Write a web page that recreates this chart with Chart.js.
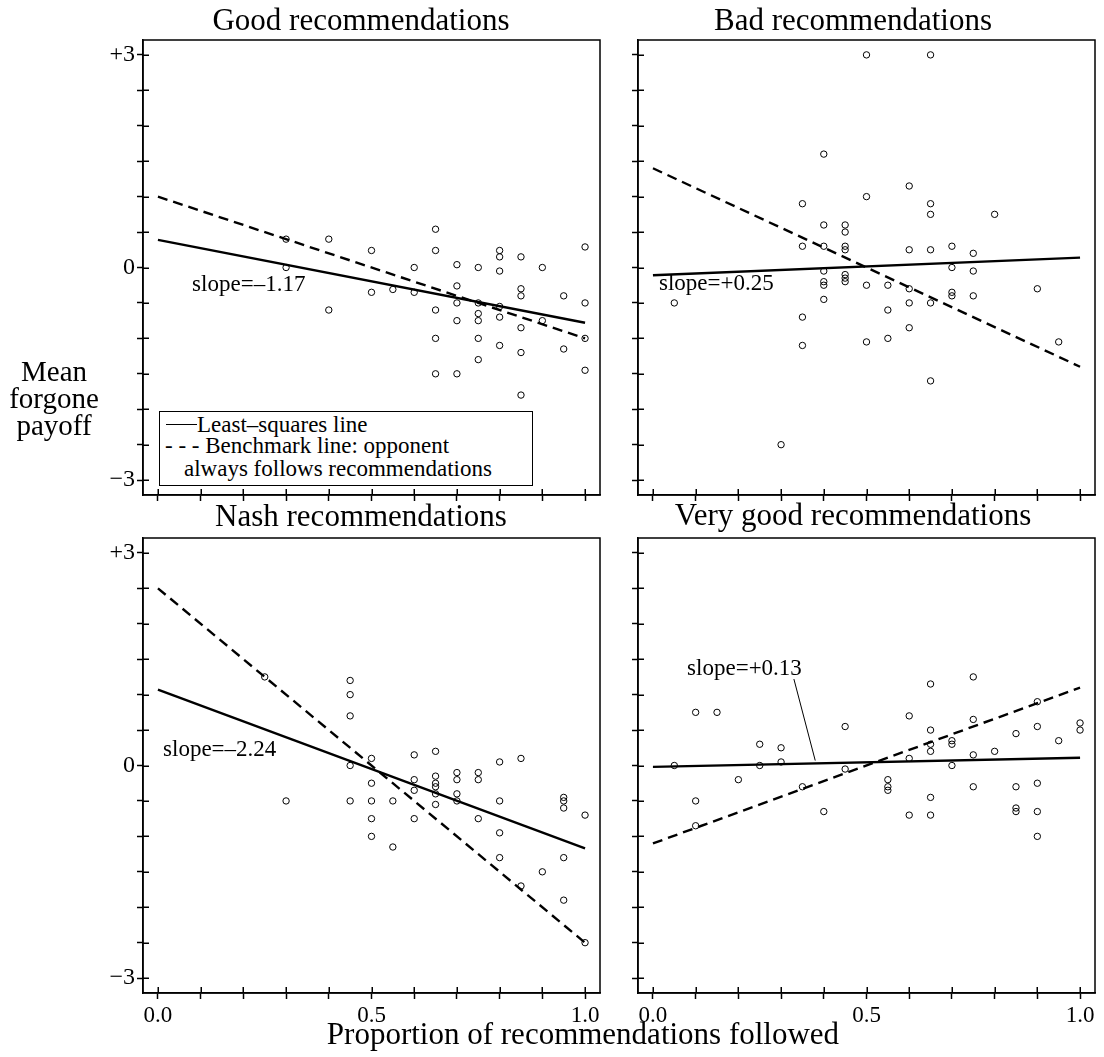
<!DOCTYPE html>
<html>
<head>
<meta charset="utf-8">
<script src="https://cdn.jsdelivr.net/npm/chart.js@4.4.1/dist/chart.umd.min.js"></script>
<style>
  body { margin: 0; background: #fff; width: 1104px; height: 1057px; position: relative; overflow: hidden;
         font-family: "Liberation Serif", "Times New Roman", serif; color: #000; }
  canvas { position: absolute; }
  .ttl { position: absolute; width: 500px; text-align: center; font-size: 31px; line-height: 31px; white-space: nowrap; }
  #ytitle { position: absolute; left: 0; top: 358px; width: 108px; text-align: center; font-size: 29px; line-height: 27px; }
  #xtitle { position: absolute; left: 283px; top: 1018px; width: 600px; text-align: center; font-size: 31px; line-height: 31px; white-space: nowrap; }
  #legend { position: absolute; left: 159px; top: 411px; width: 374px; height: 75px; box-sizing: border-box;
            border: 1.5px solid #000; background: #fff; font-size: 23px; line-height: 22px; }
  #legend div { position: absolute; white-space: nowrap; }
  #solidKey { left: 6px; top: 12px; width: 31px; height: 0; border-top: 1.5px solid #000; }
</style>
</head>
<body>
<canvas id="good" width="610" height="530" style="left:0;top:0"></canvas>
<canvas id="bad" width="489" height="530" style="left:615px;top:0"></canvas>
<canvas id="nash" width="610" height="557" style="left:0;top:500px"></canvas>
<canvas id="vgood" width="489" height="557" style="left:615px;top:500px"></canvas>

<div class="ttl" style="left:111px;top:4px">Good recommendations</div>
<div class="ttl" style="left:603px;top:4px">Bad recommendations</div>
<div class="ttl" style="left:111px;top:500px">Nash recommendations</div>
<div class="ttl" style="left:603px;top:499px">Very good recommendations</div>
<div id="ytitle">Mean<br>forgone<br>payoff</div>
<div id="xtitle">Proportion of recommendations followed</div>
<div id="legend">
  <div id="solidKey"></div>
  <div style="left:37px;top:2px">Least–squares line</div>
  <div style="left:5px;top:23px">- - - Benchmark line: opponent</div>
  <div style="left:24px;top:46px">always follows recommendations</div>
</div>

<script>
// axis ticks
const xTickVals = [0, 0.1, 0.2, 0.3, 0.4, 0.5, 0.6, 0.7, 0.8, 0.9, 1.0];
const xLabelVals = [0, 0.5, 1.0];
const xLabelText = ["0.0", "0.5", "1.0"];
const yTickVals = [-3, -2.5, -2, -1.5, -1, -0.5, 0, 0.5, 1, 1.5, 2, 2.5, 3];
const yLabelVals = [-3, 0, 3];
const yLabelText = ["\u22123", "0", "+3"];

// fitted / benchmark lines, values at x = 0 and x = 1
const lineX = [0, 1];

// Good recommendations
const goodX = [0.3, 0.3, 0.4, 0.4, 0.5, 0.5, 0.55, 0.6, 0.6, 0.65, 0.65, 0.65, 0.65, 0.65, 0.7, 0.7, 0.7, 0.7, 0.7,
  0.75, 0.75, 0.75, 0.75, 0.75, 0.75, 0.8, 0.8, 0.8, 0.8, 0.8, 0.8, 0.85, 0.85, 0.85, 0.85, 0.85, 0.85, 0.9, 0.9,
  0.95, 0.95, 1.0, 1.0, 1.0, 1.0];
const goodY = [0.4, 0.0, 0.4, -0.6, 0.24, -0.35, -0.31, 0.0, -0.35, 0.54, 0.24, -0.6, -1.0, -1.5, 0.04, -0.26, -0.5, -0.75, -1.5,
  0.0, -0.5, -0.65, -0.75, -1.0, -1.3, 0.24, 0.15, -0.05, -0.55, -0.7, -1.1, 0.15, -0.3, -0.4, -0.85, -1.2, -1.8, 0.0, -0.75,
  -0.4, -1.15, 0.29, -0.5, -1.0, -1.45];
const goodFit = [0.39, -0.78];
const goodBench = [1.0, -1.0];

// Bad recommendations
const badX = [0.5, 0.65, 0.4, 0.6, 0.5, 0.35, 0.65, 0.65, 0.8, 0.4, 0.45, 0.45, 0.35, 0.4, 0.45, 0.45, 0.6, 0.65, 0.7, 0.75,
  0.4, 0.4, 0.4, 0.45, 0.45, 0.45, 0.5, 0.55, 0.6, 0.7, 0.7, 0.7, 0.75, 0.75, 0.05, 0.4, 0.35, 0.35, 0.55, 0.55,
  0.6, 0.6, 0.65, 0.65, 0.5, 0.9, 0.95, 0.3];
const badY = [3.0, 3.0, 1.6, 1.15, 1.0, 0.9, 0.9, 0.75, 0.75, 0.6, 0.6, 0.5, 0.3, 0.3, 0.3, 0.25, 0.25, 0.25, 0.3, 0.2,
  -0.05, -0.2, -0.25, -0.1, -0.15, -0.2, -0.25, -0.25, -0.3, 0.0, -0.35, -0.4, -0.05, -0.4, -0.5, -0.45, -0.7, -1.1, -0.6, -1.0,
  -0.5, -0.85, -0.5, -1.6, -1.05, -0.3, -1.05, -2.5];
const badFit = [-0.11, 0.14];
const badBench = [1.4, -1.4];

// Nash recommendations
const nashX = [0.25, 0.45, 0.45, 0.45, 0.45, 0.45, 0.3, 0.5, 0.5, 0.5, 0.5, 0.5, 0.55, 0.55, 0.6, 0.6, 0.6, 0.6,
  0.65, 0.65, 0.65, 0.65, 0.65, 0.65, 0.7, 0.7, 0.7, 0.7, 0.75, 0.75, 0.75, 0.8, 0.8, 0.8, 0.8, 0.85, 0.85, 0.9,
  0.95, 0.95, 0.95, 0.95, 0.95, 1.0, 1.0];
const nashY = [1.25, 1.2, 1.0, 0.7, 0.0, -0.5, -0.5, 0.1, -0.25, -0.5, -0.75, -1.0, -0.5, -1.15, 0.15, -0.2, -0.35, -0.75,
  0.2, -0.15, -0.25, -0.3, -0.4, -0.55, -0.1, -0.2, -0.4, -0.5, -0.1, -0.2, -0.75, 0.05, -0.5, -0.95, -1.3, 0.1, -1.7, -1.5,
  -0.45, -0.5, -0.6, -1.3, -1.9, -0.7, -2.5];
const nashFit = [1.07, -1.17];
const nashBench = [2.5, -2.5];

// Very good recommendations
const vgoodX = [0.05, 0.1, 0.1, 0.1, 0.15, 0.2, 0.25, 0.25, 0.3, 0.3, 0.35, 0.4, 0.45, 0.45, 0.55, 0.55, 0.55,
  0.6, 0.6, 0.6, 0.65, 0.65, 0.65, 0.65, 0.65, 0.65, 0.7, 0.7, 0.7, 0.75, 0.75, 0.75, 0.75, 0.8,
  0.85, 0.85, 0.85, 0.85, 0.9, 0.9, 0.9, 0.9, 0.9, 0.95, 1.0, 1.0];
const vgoodY = [0.0, 0.75, -0.5, -0.85, 0.75, -0.2, 0.3, 0.0, 0.25, 0.05, -0.3, -0.65, 0.55, -0.05, -0.2, -0.3, -0.35,
  0.7, 0.1, -0.7, 1.15, 0.5, 0.3, 0.2, -0.45, -0.7, 0.35, 0.3, 0.0, 1.25, 0.65, 0.15, -0.3, 0.2,
  0.45, -0.3, -0.6, -0.65, 0.9, 0.55, -0.25, -0.65, -1.0, 0.35, 0.6, 0.5];
const vgoodFit = [-0.02, 0.11];
const vgoodBench = [-1.1, 1.1];

const slopeText = ["slope=\u20131.17", "slope=+0.25", "slope=\u20132.24", "slope=+0.13"];

Chart.defaults.font.family = "'Liberation Serif', 'Times New Roman', serif";
Chart.defaults.color = "#000";

// box round the plot, inner half of the ticks, slope notes
let framePlugin = (note, leader) => ({
  id: "frame",
  afterDraw: (chart) => {
    let ctx = chart.ctx;
    let a = chart.chartArea;
    let x = chart.scales.x;
    let y = chart.scales.y;
    ctx.save();
    ctx.strokeStyle = "#000";
    ctx.lineWidth = 1.5;
    ctx.strokeRect(a.left, a.top, a.right - a.left, a.bottom - a.top);
    ctx.beginPath();
    for (let t of y.ticks) {
      let py = Math.round(y.getPixelForValue(t.value)) + 0.25;
      ctx.moveTo(a.left, py);
      ctx.lineTo(a.left + 6, py);
    }
    for (let t of x.ticks) {
      let px = Math.round(x.getPixelForValue(t.value)) + 0.25;
      ctx.moveTo(px, a.bottom);
      ctx.lineTo(px, a.bottom - 6);
    }
    ctx.stroke();
    ctx.fillStyle = "#000";
    ctx.font = "23px 'Liberation Serif'";
    ctx.textBaseline = "alphabetic";
    ctx.fillText(note.text, x.getPixelForValue(note.x), y.getPixelForValue(note.y));
    if (leader) {
      ctx.lineWidth = 1;
      ctx.beginPath();
      ctx.moveTo(x.getPixelForValue(leader[0]), y.getPixelForValue(leader[1]));
      ctx.lineTo(x.getPixelForValue(leader[2]), y.getPixelForValue(leader[3]));
      ctx.stroke();
    }
    ctx.restore();
  }
});

let MakePanel = (id, xs, ys, fit, bench, o) => {
  let points = xs.map((v, i) => ({ x: v, y: ys[i] }));
  let fitLine = lineX.map((v, i) => ({ x: v, y: fit[i] }));
  let benchLine = lineX.map((v, i) => ({ x: v, y: bench[i] }));
  new Chart(document.getElementById(id), {
    type: "scatter",
    data: {
      datasets: [
        { data: points, showLine: false, pointRadius: 3.2, pointBorderWidth: 1,
          borderColor: "#000", backgroundColor: "rgba(0,0,0,0)" },
        { data: fitLine, showLine: true, pointRadius: 0, borderColor: "#000", borderWidth: 2.4 },
        { data: benchLine, showLine: true, pointRadius: 0, borderColor: "#000", borderWidth: 2.4, borderDash: [10, 6] },
      ],
    },
    options: {
      responsive: false,
      animation: false,
      devicePixelRatio: 1,
      events: [],
      layout: { padding: o.pad },
      plugins: { legend: { display: false }, tooltip: { enabled: false } },
      scales: {
        x: {
          type: "linear", min: -0.035, max: 1.035,
          afterBuildTicks: (s) => { s.ticks = xTickVals.map((v) => ({ value: v })); },
          afterFit: (s) => { s.height = o.xh; },
          ticks: {
            autoSkip: false, maxRotation: 0, padding: 3, font: { size: 23 },
            callback: (v) => {
              let k = xLabelVals.findIndex((w) => Math.abs(w - v) < 1e-6);
              return o.xLabels && k >= 0 ? xLabelText[k] : "";
            },
          },
          grid: { drawOnChartArea: false, drawTicks: true, tickLength: 6, tickWidth: 1.5, tickColor: "#000" },
          border: { display: true, color: "#000", width: 1.5 },
        },
        y: {
          type: "linear", min: -3.21, max: 3.21,
          afterBuildTicks: (s) => { s.ticks = yTickVals.map((v) => ({ value: v })); },
          afterFit: (s) => { s.width = o.yw; },
          ticks: {
            autoSkip: false, padding: 2, font: { size: 24 },
            callback: (v) => {
              let k = yLabelVals.findIndex((w) => Math.abs(w - v) < 1e-6);
              return o.yLabels && k >= 0 ? yLabelText[k] : "";
            },
          },
          grid: { drawOnChartArea: false, drawTicks: true, tickLength: 6, tickWidth: 1.5, tickColor: "#000" },
          border: { display: true, color: "#000", width: 1.5 },
        },
      },
    },
    plugins: [framePlugin(o.note, o.leader)],
  });
};

MakePanel("good", goodX, goodY, goodFit, goodBench, {
  pad: { left: 0, top: 40, right: 10, bottom: 5 }, xh: 30, yw: 143, xLabels: false, yLabels: true,
  note: { text: slopeText[0], x: 0.08, y: -0.33 },
});
MakePanel("bad", badX, badY, badFit, badBench, {
  pad: { left: 0, top: 40, right: 9, bottom: 5 }, xh: 30, yw: 23, xLabels: false, yLabels: false,
  note: { text: slopeText[1], x: 0.014, y: -0.32 },
});
MakePanel("nash", nashX, nashY, nashFit, nashBench, {
  pad: { left: 0, top: 38, right: 10, bottom: 14 }, xh: 50, yw: 143, xLabels: true, yLabels: true,
  note: { text: slopeText[2], x: 0.012, y: 0.13 },
});
MakePanel("vgood", vgoodX, vgoodY, vgoodFit, vgoodBench, {
  pad: { left: 0, top: 38, right: 9, bottom: 14 }, xh: 50, yw: 23, xLabels: true, yLabels: false,
  note: { text: slopeText[3], x: 0.08, y: 1.28 }, leader: [0.33, 1.22, 0.38, 0.07],
});
</script>
</body>
</html>
